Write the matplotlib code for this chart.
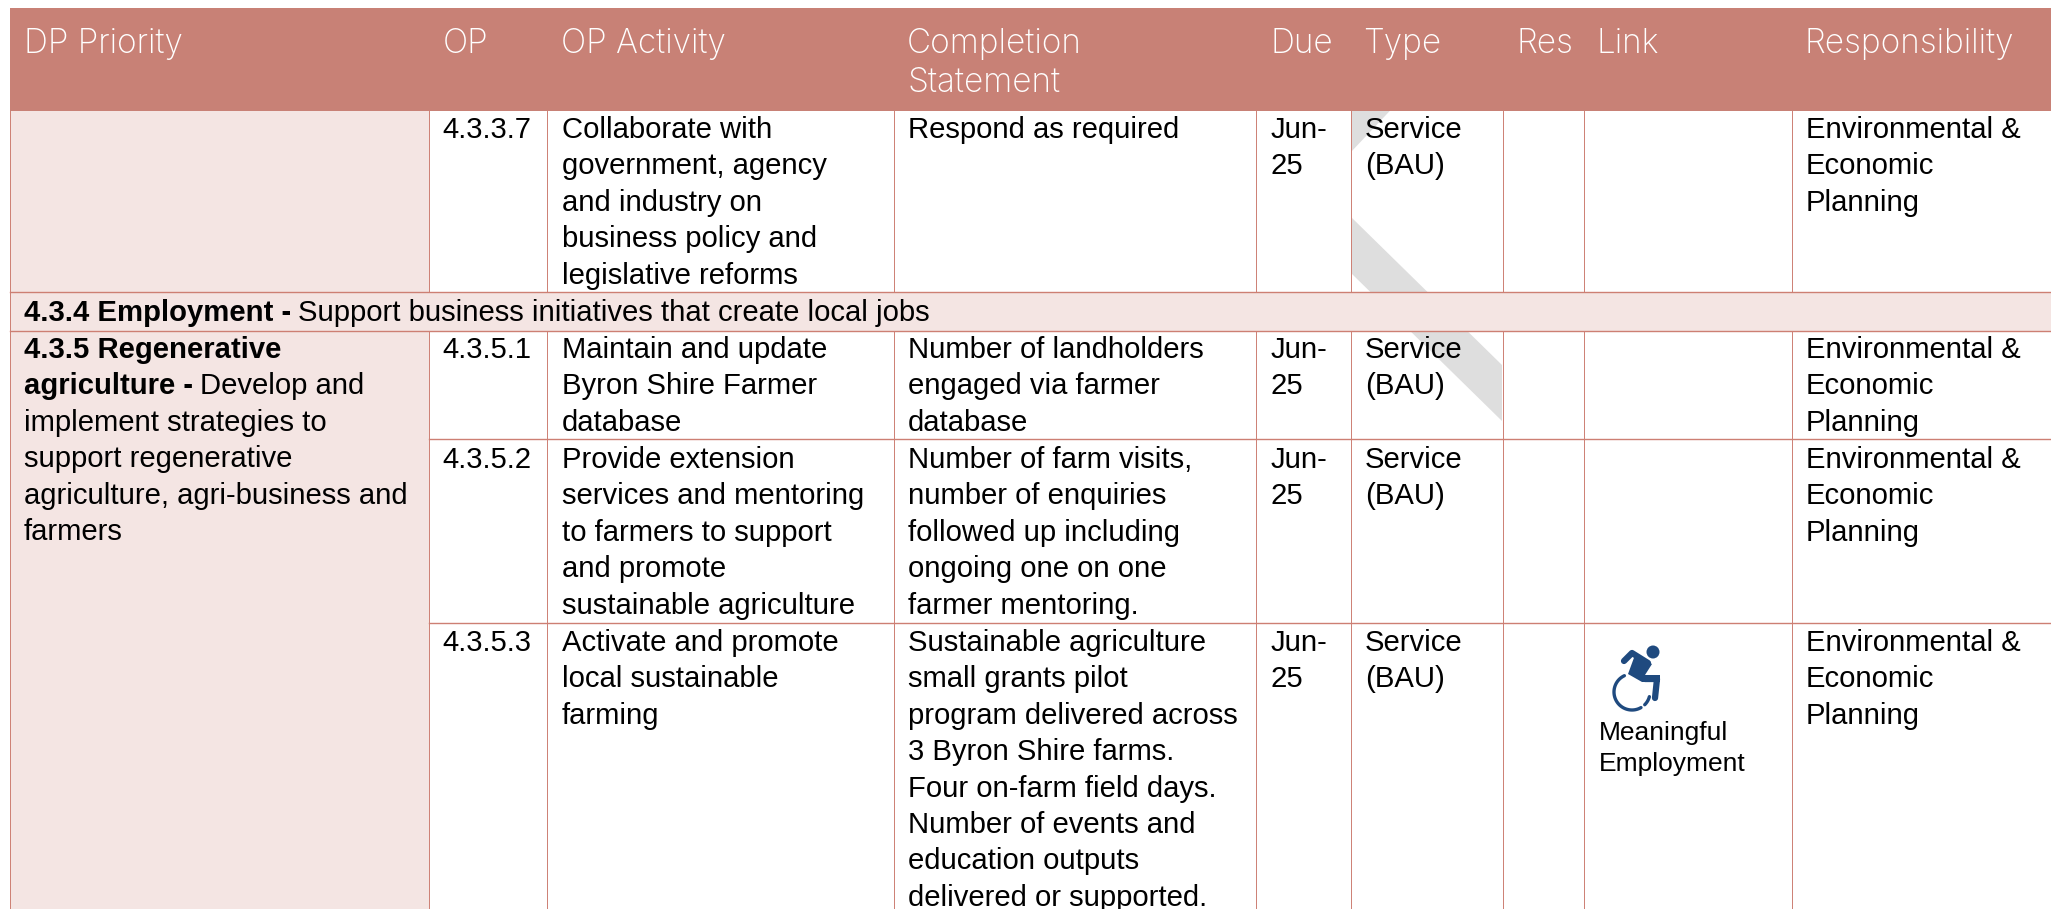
# Operational plan table rebuilt from text and rectangles

import numpy as np
import matplotlib.pyplot as plt
from matplotlib.patches import Rectangle, Polygon, Circle

W = 2051 # image width
H = 909 # image height

header_color = '#C88176'
pink = '#F4E5E3'
line_color = '#CD7F73'
grey = '#DEDEDE'
icon_color = '#1F4A7F'

body_font = 'Liberation Sans'
head_font = 'Inter'
body_size = 21.1
head_size = 24

# Table structure
col_lines = [429, 547, 894, 1256, 1351, 1503, 1584, 1792]
row_tops = [110.7, 331, 439, 623]
head_x = [24, 443, 561, 907, 1270, 1363, 1516, 1597, 1805]
headers = ['DP Priority', 'OP', 'OP Activity', 'Completion\nStatement', 'Due', 'Type', 'Res', 'Link', 'Responsibility']

# Rows
op_ids = ['4.3.3.7', '4.3.5.1', '4.3.5.2', '4.3.5.3']
row_base = [138, 358, 468, 651]
activities = [
    ['Collaborate with', 'government, agency', 'and industry on', 'business policy and', 'legislative reforms'],
    ['Maintain and update', 'Byron Shire Farmer', 'database'],
    ['Provide extension', 'services and mentoring', 'to farmers to support', 'and promote', 'sustainable agriculture'],
    ['Activate and promote', 'local sustainable', 'farming'],
]
statements = [
    ['Respond as required'],
    ['Number of landholders', 'engaged via farmer', 'database'],
    ['Number of farm visits,', 'number of enquiries', 'followed up including', 'ongoing one on one', 'farmer mentoring.'],
    ['Sustainable agriculture', 'small grants pilot', 'program delivered across', '3 Byron Shire farms.', 'Four on-farm field days.',
     'Number of events and', 'education outputs', 'delivered or supported.'],
]
due = ['Jun-', '25']
types = ['Service', '(BAU)']
responsibility = ['Environmental &', 'Economic', 'Planning']
priority_plain = ['Develop and', 'implement strategies to', 'support regenerative', 'agriculture, agri-business and', 'farmers']

pitch = 36.4 # line spacing in pixels

fig = plt.figure(figsize=(W/100, H/100), dpi=100)
ax = fig.add_axes([0, 0, 1, 1])
ax.set_xlim(0, W)
ax.set_ylim(H, 0)
ax.axis('off')

def lines(x, y, rows, **kw):
    for i, r in enumerate(rows):
        ax.text(x, y+i*pitch, r, va='baseline', family=body_font, fontsize=body_size, color='black', **kw)

# Write bold text, then plain text straight after it
def mixed(x, y, bold, plain):
    t = ax.text(x, y, bold, va='baseline', family=body_font, fontsize=body_size, fontweight='bold')
    box = t.get_window_extent(fig.canvas.get_renderer())
    ax.text(box.x1+7, y, plain, va='baseline', family=body_font, fontsize=body_size)

# Backgrounds
ax.add_patch(Rectangle((9.5, 110.7), 419.5, 181.3, fc=pink, ec='none'))
ax.add_patch(Rectangle((9.5, 331), 419.5, H-331, fc=pink, ec='none'))

# Grey watermark pieces seen through the Type column
ax.add_patch(Polygon([(1351, 110.7), (1390, 110.7), (1351, 152)], fc=grey, ec='none'))
ax.add_patch(Polygon([(1351, 217), (1502, 365), (1502, 421), (1351, 273)], fc=grey, ec='none'))

# Header and band row sit on top of the watermark
ax.add_patch(Rectangle((9.5, 8), W-9.5, 102.7, fc=header_color, ec='none'))
ax.add_patch(Rectangle((9.5, 292), W-9.5, 39, fc=pink, ec='none'))

# Grid lines
for x in col_lines:
    ax.plot([x, x], [110.7, 292], color=line_color, lw=0.7)
    ax.plot([x, x], [331, H], color=line_color, lw=0.7)
ax.plot([9.5, 9.5], [110.7, H], color=line_color, lw=0.7)
ax.plot([9.5, W], [292, 292], color=line_color, lw=1.0)
ax.plot([9.5, W], [331, 331], color=line_color, lw=1.0)
ax.plot([429, W], [439, 439], color=line_color, lw=1.0)
ax.plot([429, W], [623, 623], color=line_color, lw=1.0)

# Header text
for x, h in zip(head_x, headers):
    for i, part in enumerate(h.split('\n')):
        ax.text(x, 53+i*39, part, va='baseline', family=head_font, fontsize=head_size, color='white', fontweight='light')

# Body rows
for i in range(len(op_ids)):
    y = row_base[i]
    lines(442, y, [op_ids[i]])
    lines(562, y, activities[i])
    lines(908, y, statements[i])
    lines(1271, y, due)
    lines(1365, y, types)
    lines(1806, y, responsibility)

# Band row and merged priority cell
mixed(24, 321, '4.3.4 Employment -', 'Support business initiatives that create local jobs')
mixed(24, 358, '4.3.5 Regenerative', '')
mixed(24, 394.5, 'agriculture -', priority_plain[0])
lines(24, 431, priority_plain[1:])

# Link cell: wheelchair icon and caption
a = np.radians(np.linspace(115, 300, 60))
ax.plot(1632+18*np.cos(a), 692-18*np.sin(a), color=icon_color, lw=2.4, solid_capstyle='round')
a = np.radians(np.linspace(315, 345, 10))
ax.plot(1632+18*np.cos(a), 692-18*np.sin(a), color=icon_color, lw=2.4, solid_capstyle='round')
ax.add_patch(Circle((1653, 652), 6.5, fc=icon_color, ec='none'))
ax.plot([1624, 1632, 1648], [661, 653, 663], color=icon_color, lw=4.5, solid_capstyle='round', solid_joinstyle='round')
ax.add_patch(Polygon([(1635, 655), (1652, 664), (1645, 675), (1660, 675), (1660, 682), (1642, 682), (1628, 674)], fc=icon_color, ec='none'))
ax.plot([1645, 1657, 1655], [679, 679, 698], color=icon_color, lw=4.5, solid_capstyle='round', solid_joinstyle='round')
ax.text(1599, 740, 'Meaningful', va='baseline', family=body_font, fontsize=19)
ax.text(1599, 771, 'Employment', va='baseline', family=body_font, fontsize=19)

plt.savefig('out.png', dpi=100)
